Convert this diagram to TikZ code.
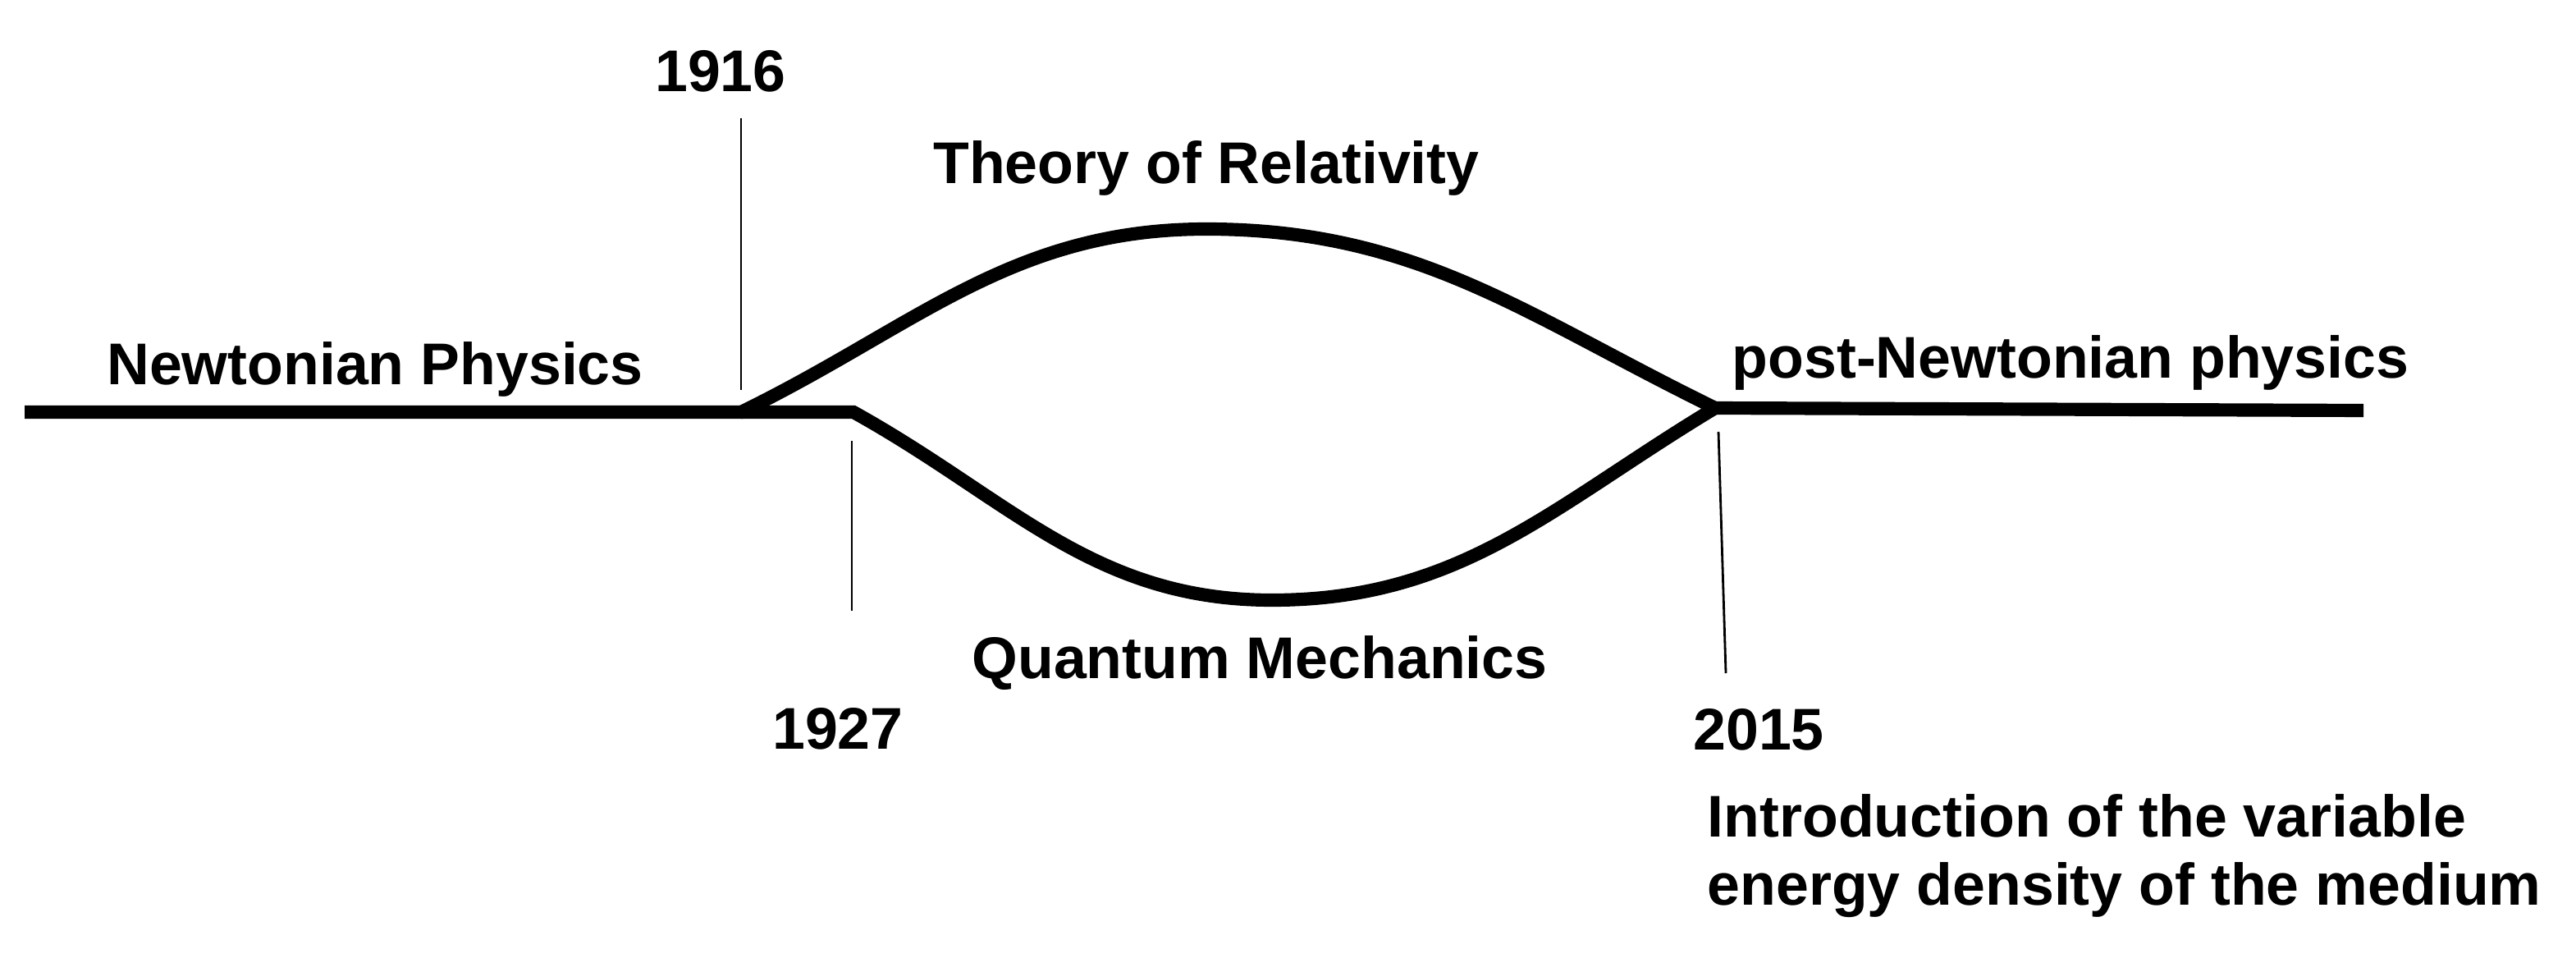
\documentclass[tikz,border=0pt]{standalone}
\usepackage{fontspec}
\setmainfont{Liberation Sans}
\usetikzlibrary{positioning}

\begin{document}
\begin{tikzpicture}[font=\fontsize{20.4}{23.5}\selectfont\bfseries,
      lbl/.style={inner sep=0pt, anchor=base},
      era/.style={line width=4.6pt},
      lead/.style={line width=0.8pt}]
    \useasboundingbox (0,0) rectangle (31.39,-11.84);
    % junctions of the branches
    \coordinate (start) at (0.30,-5.02);
    \coordinate (split) at (9.03,-5.02);
    \coordinate (qsplit) at (10.40,-5.02);
    \coordinate (rtop) at (14.70,-2.79);
    \coordinate (qbot) at (15.50,-7.31);
    \coordinate (merge) at (20.90,-4.97);
    \coordinate (stop) at (28.80,-5.00);
    % branches
    \draw[era] (start) -- (split) to[out=26, in=180] (rtop) to[out=0, in=154] (merge) -- (stop);
    \draw[era] (split) -- (qsplit) to[out=-29, in=180] (qbot) to[out=0, in=-149] (merge);
    % labels
    \node[lbl] (newton) at (4.57,-4.68) {Newtonian Physics};
    \node[lbl] (rel) at (14.70,-2.24) {Theory of Relativity};
    \node[lbl] (qm) at (15.35,-8.26) {Quantum Mechanics};
    \node[lbl] (post) at (25.23,-4.60) {post-Newtonian physics};
    \node[lbl] (y1916) at (8.78,-1.12) {1916};
    \node[lbl] (y1927) at (10.21,-9.12) {1927};
    \node[lbl] (y2015) at (21.43,-9.13) {2015};
    \node[lbl, anchor=base west, align=left] (intro) at (20.80,-11.02)
      {Introduction of the variable\\energy density of the medium};
    % year markers
    \coordinate (m1916a) at (9.03,-1.44);
    \coordinate (m1916b) at (9.03,-4.75);
    \coordinate (m1927a) at (10.38,-5.37);
    \coordinate (m1927b) at (10.38,-7.44);
    \coordinate (m2015a) at (20.94,-5.26);
    \coordinate (m2015b) at (21.03,-8.20);
    \draw[lead] (m1916a) -- (m1916b);
    \draw[lead] (m1927a) -- (m1927b);
    \draw[lead] (m2015a) -- (m2015b);
  \end{tikzpicture}
\end{document}
